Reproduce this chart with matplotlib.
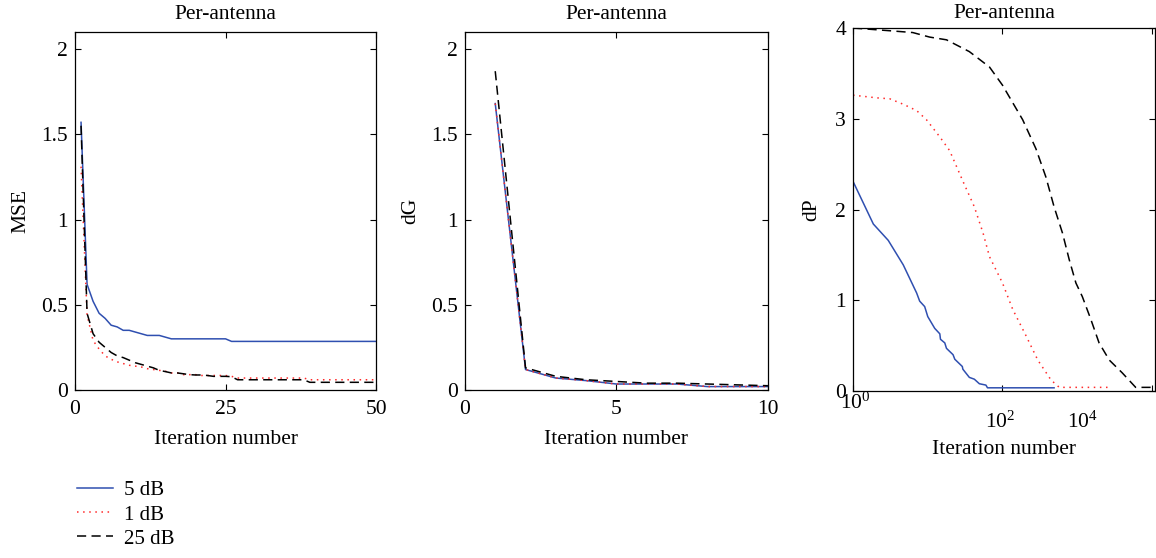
import matplotlib
matplotlib.use('Agg')
import matplotlib.pyplot as plt

plt.rcParams['font.family'] = ['Liberation Serif', 'DejaVu Serif']
plt.rcParams['mathtext.fontset'] = 'custom'
plt.rcParams['mathtext.rm'] = 'Liberation Serif'
plt.rcParams['mathtext.it'] = 'Liberation Serif:italic'

## data
labels = ['5 dB', '1 dB', '25 dB']
colours = ['#2f4fb0', '#ff2a2a', 'black']
styles = ['-', (0, (1, 3)), (0, (6, 3.5))]

# MSE vs iteration (left panel)
mse_it = list(range(1, 51))
mse_5 = [1.57, 0.62, 0.52, 0.45, 0.42, 0.38, 0.37, 0.35, 0.35, 0.34,
         0.33, 0.32, 0.32, 0.32, 0.31, 0.30, 0.30, 0.30, 0.30, 0.30,
         0.30, 0.30, 0.30, 0.30, 0.30, 0.285, 0.285, 0.285, 0.285, 0.285,
         0.285, 0.285, 0.285, 0.285, 0.285, 0.285, 0.285, 0.285, 0.285, 0.285,
         0.285, 0.285, 0.285, 0.285, 0.285, 0.285, 0.285, 0.285, 0.285, 0.285]
mse_1 = [1.31, 0.44, 0.29, 0.24, 0.20, 0.18, 0.165, 0.155, 0.145, 0.14,
         0.135, 0.125, 0.12, 0.115, 0.11, 0.10, 0.10, 0.09, 0.09, 0.09,
         0.085, 0.085, 0.085, 0.085, 0.085, 0.08, 0.07, 0.07, 0.07, 0.07,
         0.07, 0.07, 0.07, 0.07, 0.07, 0.07, 0.07, 0.07, 0.06, 0.06,
         0.06, 0.06, 0.06, 0.06, 0.06, 0.06, 0.06, 0.06, 0.06, 0.06]
mse_25 = [1.55, 0.45, 0.33, 0.28, 0.25, 0.22, 0.20, 0.19, 0.175, 0.16,
          0.15, 0.14, 0.13, 0.115, 0.108, 0.10, 0.10, 0.095, 0.09, 0.088,
          0.088, 0.085, 0.08, 0.08, 0.08, 0.078, 0.06, 0.06, 0.06, 0.06,
          0.06, 0.06, 0.06, 0.06, 0.06, 0.06, 0.06, 0.06, 0.045, 0.045,
          0.045, 0.045, 0.045, 0.045, 0.045, 0.045, 0.045, 0.045, 0.045, 0.045]

# dG vs iteration (middle panel)
dg_it = list(range(1, 11))
dg_5 = [1.68, 0.12, 0.07, 0.055, 0.035, 0.035, 0.035, 0.02, 0.02, 0.02]
dg_1 = [1.68, 0.12, 0.07, 0.055, 0.035, 0.035, 0.035, 0.02, 0.02, 0.02]
dg_25 = [1.87, 0.13, 0.08, 0.06, 0.05, 0.04, 0.04, 0.035, 0.03, 0.025]

# dP vs iteration, log x (right panel)
dp_it_5 = [1, 1.87, 2.96, 4.7, 7.1, 7.8, 9.1, 10, 12.4, 14.5, 14.8, 16.9, 17.8,
           21.8, 23, 29, 29.5, 36, 42, 49, 60, 63, 490]
dp_5 = [2.31, 1.84, 1.66, 1.39, 1.08, 0.99, 0.93, 0.82, 0.69, 0.63, 0.57, 0.53, 0.47,
        0.40, 0.35, 0.27, 0.24, 0.15, 0.13, 0.08, 0.065, 0.035, 0.035]
dp_it_1 = [1, 2.1, 3.1, 4.7, 7.1, 9.6, 14.5, 19.6, 29.6, 42, 55, 67, 100, 137,
           209, 297, 447, 575, 2690]
dp_1 = [3.26, 3.23, 3.22, 3.16, 3.09, 2.99, 2.80, 2.65, 2.31, 2.03, 1.74, 1.48, 1.19, 0.90,
        0.60, 0.34, 0.12, 0.04, 0.04]
dp_it_25 = [1, 3.1, 6.3, 10.6, 17.8, 36, 67, 100, 186, 280, 380, 490, 635, 780, 960,
            1170, 1520, 1960, 2690, 4000, 6050, 10700]
dp_25 = [4.0, 3.97, 3.95, 3.90, 3.87, 3.74, 3.57, 3.37, 2.99, 2.67, 2.36, 2.03, 1.74, 1.45, 1.19,
         1.04, 0.79, 0.53, 0.34, 0.20, 0.04, 0.04]

fs = 15.5

fig = plt.figure(figsize=(11.56, 5.58), dpi=100)
ax1 = fig.add_axes([0.0649, 0.3011, 0.2604, 0.6416])
ax2 = fig.add_axes([0.4022, 0.3011, 0.2621, 0.6416])
ax3 = fig.add_axes([0.7379, 0.2993, 0.2612, 0.6505])

def style(ax):
    ax.tick_params(direction='in', length=4, width=0.8, top=True, right=True,
                   labelsize=fs, pad=5)
    ax.tick_params(axis='x', pad=7)
    for s in ax.spines.values():
        s.set_linewidth(0.9)

# left panel
for y, c, ls, lab in zip([mse_5, mse_1, mse_25], colours, styles, labels):
    ax1.plot(mse_it, y, color=c, linestyle=ls, linewidth=1.1, label=lab)
ax1.set_xlim(0, 50)
ax1.set_ylim(0, 2.1)
ax1.set_xticks([0, 25, 50])
ax1.set_yticks([0, 0.5, 1, 1.5, 2])
ax1.set_yticklabels(['0', '0.5', '1', '1.5', '2'])
ax1.set_ylabel('MSE', fontsize=fs, labelpad=8)
ax1.set_xlabel('Iteration number', fontsize=fs, labelpad=8)
ax1.set_title('Per-antenna', fontsize=fs, pad=9)
style(ax1)

# middle panel
for y, c, ls in zip([dg_5, dg_1, dg_25], colours, styles):
    ax2.plot(dg_it, y, color=c, linestyle=ls, linewidth=1.1)
ax2.set_xlim(0, 10)
ax2.set_ylim(0, 2.1)
ax2.set_xticks([0, 5, 10])
ax2.set_yticks([0, 0.5, 1, 1.5, 2])
ax2.set_yticklabels(['0', '0.5', '1', '1.5', '2'])
ax2.set_ylabel('dG', fontsize=fs, labelpad=8)
ax2.set_xlabel('Iteration number', fontsize=fs, labelpad=8)
ax2.set_title('Per-antenna', fontsize=fs, pad=9)
style(ax2)

# right panel
for x, y, c, ls in zip([dp_it_5, dp_it_1, dp_it_25], [dp_5, dp_1, dp_25], colours, styles):
    ax3.plot(x, y, color=c, linestyle=ls, linewidth=1.1)
ax3.set_xscale('log')
ax3.set_xlim(1, 10 ** 4.04)
ax3.set_ylim(0, 4)
ax3.set_xticks([1, 100, 1e4])
ax3.set_xticks([], minor=True)
ax3.set_xticklabels(['', '', ''])
ax3.set_yticks([0, 1, 2, 3, 4])
ax3.set_ylabel('dP', fontsize=fs, labelpad=10)
ax3.set_xlabel('Iteration number', fontsize=fs, labelpad=28)
ax3.set_title('Per-antenna', fontsize=fs, pad=7)
style(ax3)
# log tick labels placed as in the reference export
ax3.annotate('$10^0$', xy=(1, 0), xycoords=('data', 'axes fraction'),
             xytext=(2, -1), textcoords='offset points', ha='center', va='top', fontsize=fs)
ax3.annotate('$10^2$', xy=(100, 0), xycoords=('data', 'axes fraction'),
             xytext=(-2, -15), textcoords='offset points', ha='center', va='top', fontsize=fs)
ax3.annotate('$10^4$', xy=(1e4, 0), xycoords=('data', 'axes fraction'),
             xytext=(-50, -15), textcoords='offset points', ha='center', va='top', fontsize=fs)

leg = fig.legend(loc='upper left', bbox_to_anchor=(0.05, 0.172), frameon=False,
                 fontsize=15, handlelength=1.75, handletextpad=0.55, labelspacing=0.22)

fig.savefig('out.png', dpi=100)
